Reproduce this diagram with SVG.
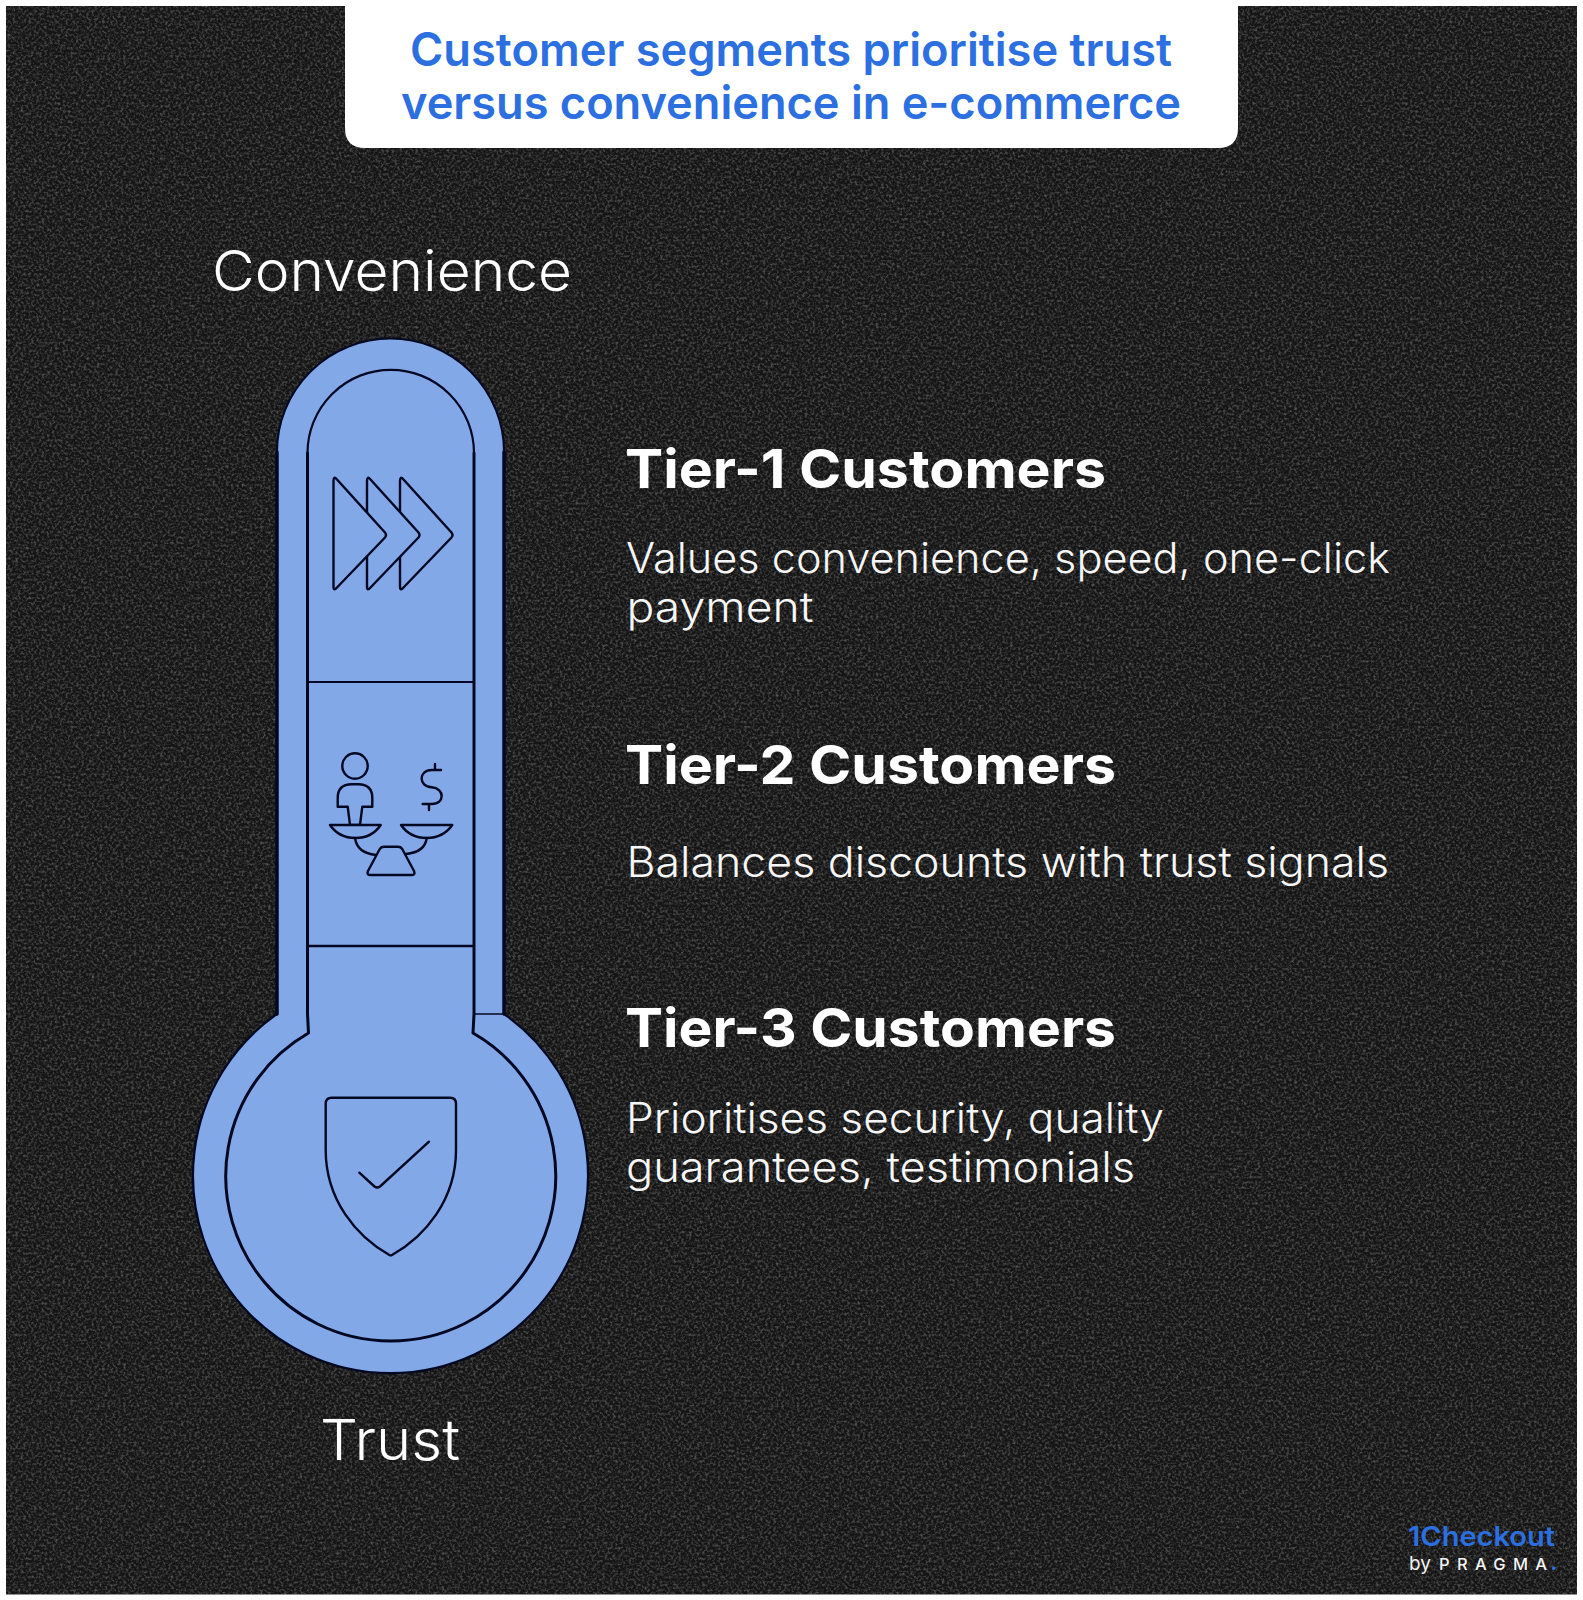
<svg xmlns="http://www.w3.org/2000/svg" width="1583" height="1600" viewBox="0 0 1583 1600">
<style>
.ln{fill:none;stroke:#020822;stroke-linecap:round;stroke-linejoin:round}
.ic{fill:#83a8e8;stroke:#020822;stroke-width:2.4;stroke-linejoin:round;stroke-linecap:round}
.h{font-family:"Inter","Liberation Sans",sans-serif;font-weight:700;font-size:54px;fill:#fff}
.b{font-family:"Inter","Liberation Sans",sans-serif;font-weight:300;font-size:42px;fill:#f6f6f6}
.l{font-family:"Inter","Liberation Sans",sans-serif;font-weight:300;font-size:56px;fill:#fff}
.t{font-family:"Inter","Liberation Sans",sans-serif;font-weight:600;font-size:46px;fill:#2b6fe0}
</style>
<defs>
<filter id="grain" x="0" y="0" width="100%" height="100%" color-interpolation-filters="sRGB">
<feTurbulence type="fractalNoise" baseFrequency="0.38" numOctaves="3" seed="7"/>
<feColorMatrix type="matrix" values="0 0 0 0 1 0 0 0 0 1 0 0 0 0 1 2.2 0 0 0 -0.92"/>
</filter>
<path id="chev" d="M334 481Q334 475.500 337.500 479.500L385.500 532.500Q387.500 535 385.500 537.500L337.500 587.500Q334 591.500 334 586.500Z"/>
</defs>
<rect width="1583" height="1600" fill="#fff"/>
<g id="background">
<rect x="6" y="6" width="1571" height="1588.500" fill="#151515"/>
<rect x="6" y="6" width="1571" height="1588.500" filter="url(#grain)" opacity="0.28"/>
</g>
<g id="title">
<path d="M345 0H1238V128Q1238 148 1218 148H365Q345 148 345 128Z" fill="#fff"/>
<text class="t" x="410" y="66" textLength="762" lengthAdjust="spacingAndGlyphs">Customer segments prioritise trust</text>
<text class="t" x="401" y="119" textLength="780" lengthAdjust="spacingAndGlyphs">versus convenience in e-commerce</text>
</g>
<g id="thermometer">
<path d="M277 452A113.500 113.500 0 0 1 504 452V1014A197.500 197.500 0 1 1 277 1014Z" fill="#83a8e8"/>
<path class="ln" stroke-width="2" d="M277 452A113.500 113.500 0 0 1 504 452"/>
<path class="ln" stroke-width="3.500" d="M277 452V1014M504 452V1014"/>
<path class="ln" stroke-width="2.200" d="M504 1014A197.500 197.500 0 1 1 277 1014"/>
<path class="ln" stroke-width="2.200" d="M307.500 453A83.250 83.250 0 0 1 474 453"/>
<path class="ln" stroke-width="3" d="M307.500 453V1014L308.500 1033A165 165 0 1 0 473 1033L474 1014V453"/>
<path class="ln" stroke-width="1.500" d="M474 1014H504"/>
<path class="ln" stroke-width="2" d="M307.500 682H474"/>
<path class="ln" stroke-width="2.500" d="M307.500 946H474"/>
</g>
<g id="icon-speed" class="ic">
<use href="#chev" x="66" y="0"/>
<use href="#chev" x="33" y="0"/>
<use href="#chev" x="-0.500" y="0"/>
</g>
<g id="icon-balance" class="ic">
<circle cx="355" cy="766" r="12.700"/>
<path d="M337.700 806.700V798.300Q337.700 784.300 351.700 784.300H358.300Q372.300 784.300 372.300 798.300V806.700H362.300L360 825H350L347.700 806.700Z"/>
<path d="M330 825H380.700Q372 838 355.300 838Q339 838 330 825Z"/>
<path d="M401 825H452.300Q443 838 426.700 838Q410 838 401 825Z"/>
<path fill="none" d="M355 838Q357 853 376 855M426.700 838Q425 852 406 854"/>
<path d="M384 846.700H398Q401 846.700 402.500 849.500L414 871Q415.500 875 412 875H370Q366.500 875 368 871L379.500 849.500Q381 846.700 384 846.700Z"/>
<path fill="none" d="M441 770H431.700C418.300 770 418.300 786.700 431.700 787.300C445 788.300 445 804 431.700 804H422.700M435 764V770M429 804V810"/>
</g>
<g id="icon-trust" class="ic">
<path d="M331.700 1097.700H450Q456 1097.700 456 1103.700V1150C456 1200 424.700 1236.700 392 1255Q390.700 1255.700 389.400 1255C356.700 1236.700 325.700 1200 325.700 1150V1103.700Q325.700 1097.700 331.700 1097.700Z"/>
<path fill="none" d="M359.300 1172.700L374.500 1186.500Q377.300 1188.500 380 1186.500L429 1141.700"/>
</g>
<g id="axis-labels">
<text class="l" x="212" y="291" textLength="360" lengthAdjust="spacingAndGlyphs">Convenience</text>
<text class="l" x="320" y="1460" textLength="140" lengthAdjust="spacingAndGlyphs">Trust</text>
</g>
<g id="tier-1">
<text class="h" x="625" y="488" textLength="481" lengthAdjust="spacingAndGlyphs">Tier-1 Customers</text>
<text class="b" x="626" y="573" textLength="764" lengthAdjust="spacingAndGlyphs">Values convenience, speed, one-click</text>
<text class="b" x="626.500" y="622" textLength="187" lengthAdjust="spacingAndGlyphs">payment</text>
</g>
<g id="tier-2">
<text class="h" x="625" y="784" textLength="491" lengthAdjust="spacingAndGlyphs">Tier-2 Customers</text>
<text class="b" x="626.500" y="877" textLength="762.500" lengthAdjust="spacingAndGlyphs">Balances discounts with trust signals</text>
</g>
<g id="tier-3">
<text class="h" x="625" y="1047" textLength="491" lengthAdjust="spacingAndGlyphs">Tier-3 Customers</text>
<text class="b" x="626" y="1133" textLength="538" lengthAdjust="spacingAndGlyphs">Prioritises security, quality</text>
<text class="b" x="626" y="1182" textLength="509" lengthAdjust="spacingAndGlyphs">guarantees, testimonials</text>
</g>
<g id="logo">
<text x="1408" y="1546" font-family="Inter, 'Liberation Sans', sans-serif" font-weight="600" font-size="27" fill="#2b6fe0" textLength="147" lengthAdjust="spacingAndGlyphs">1Checkout</text>
<text x="1409" y="1570" font-family="Inter, 'Liberation Sans', sans-serif" font-weight="400" font-size="19" fill="#f4f4f4">by</text>
<text x="1439" y="1570" font-family="Inter, 'Liberation Sans', sans-serif" font-weight="500" font-size="16.500" fill="#f4f4f4" textLength="108" lengthAdjust="spacing">PRAGMA</text>
<text x="1550.500" y="1570" font-family="Inter, 'Liberation Sans', sans-serif" font-weight="800" font-size="19" fill="#2b6fe0">.</text>
</g>
</svg>
